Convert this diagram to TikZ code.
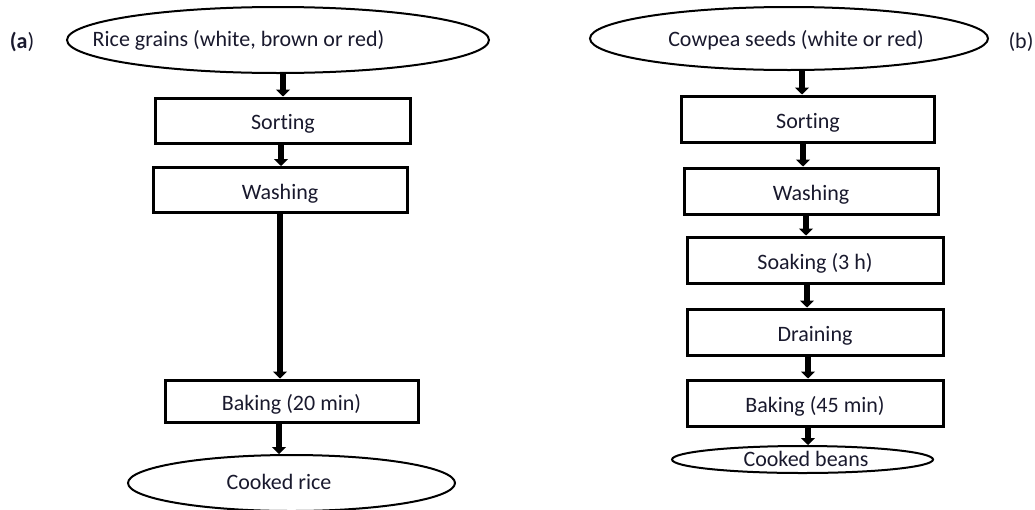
\documentclass[tikz,border=0pt]{standalone}
\usepackage{fontspec}
\setmainfont[Ligatures=NoCommon]{Carlito}
\usetikzlibrary{shapes.geometric,arrows.meta}
\definecolor{txt}{RGB}{25,25,45}
\tikzset{
  every node/.style={font=\fontsize{22}{26}\selectfont, text=txt},
  stepbox/.style={draw, line width=3pt, rectangle, minimum width=255pt, minimum height=45pt, inner sep=0pt, text height=18.5pt, text depth=0pt},
  oval/.style={draw, line width=2pt, ellipse, inner sep=0pt},
  lbl/.style={text height=15pt, text depth=0pt, inner sep=0pt},
  arr/.style={line width=5.5pt, -{Triangle[width=14pt,length=7pt]}, shorten <=-1pt}
}
\begin{document}
\begin{tikzpicture}[x=1pt,y=-1pt]
\useasboundingbox (0,0) rectangle (1035,509);
% (a)
\node (la) at (22,42) {\textbf{(a})};
\node[oval, minimum width=422pt, minimum height=66pt] (ea) at (278,40) {};
\node[lbl] (tea) at (238.5,38.5) {Rice grains (white, brown or red)};
\node[stepbox] (sa) at (283,120.5) {Sorting};
\node[stepbox, minimum width=254pt] (wa) at (280,190) {Washing};
\node[stepbox, minimum width=253pt, minimum height=42pt] (ba) at (291.5,401) {Baking (20 min)};
\node[oval, minimum width=327pt, minimum height=56pt] (ca) at (291.5,483) {};
\node[lbl] (tca) at (279,481.5) {Cooked rice};
\draw[arr] (283,0 |- ea.south) -- (283,0 |- sa.north);
\draw[arr] (281,0 |- sa.south) -- (281,0 |- wa.north);
\draw[arr] (280,0 |- wa.south) -- (280,0 |- ba.north);
\draw[arr] (279,0 |- ba.south) -- (279,0 |- ca.north);
% (b)
\node (lb) at (1021,42) {(b)};
\node[oval, minimum width=398pt, minimum height=63pt] (eb) at (789,38.5) {};
\node[lbl] (teb) at (796,38.5) {Cowpea seeds (white or red)};
\node[stepbox, minimum width=253pt, minimum height=46pt] (sb) at (808,119) {Sorting};
\node[stepbox, minimum width=254pt, minimum height=46pt] (wb) at (811,191) {Washing};
\node[stepbox, minimum width=256pt, minimum height=46pt] (kb) at (815,260) {Soaking (3 h)};
\node[stepbox, minimum width=256pt, minimum height=46pt] (db) at (815,332) {Draining};
\node[stepbox, minimum width=256pt, minimum height=46pt] (bb) at (815,403) {Baking (45 min)};
\node[oval, minimum width=261pt, minimum height=27pt] (cb) at (802.5,459.5) {};
\node[lbl] (tcb) at (806,458.5) {Cooked beans};
\draw[arr] (802,0 |- eb.south) -- (802,0 |- sb.north);
\draw[arr] (803,0 |- sb.south) -- (803,0 |- wb.north);
\draw[arr] (806,0 |- wb.south) -- (806,0 |- kb.north);
\draw[arr] (807,0 |- kb.south) -- (807,0 |- db.north);
\draw[arr] (808,0 |- db.south) -- (808,0 |- bb.north);
\draw[arr] (808,0 |- bb.south) -- (808,0 |- cb.north);
\end{tikzpicture}
\end{document}
